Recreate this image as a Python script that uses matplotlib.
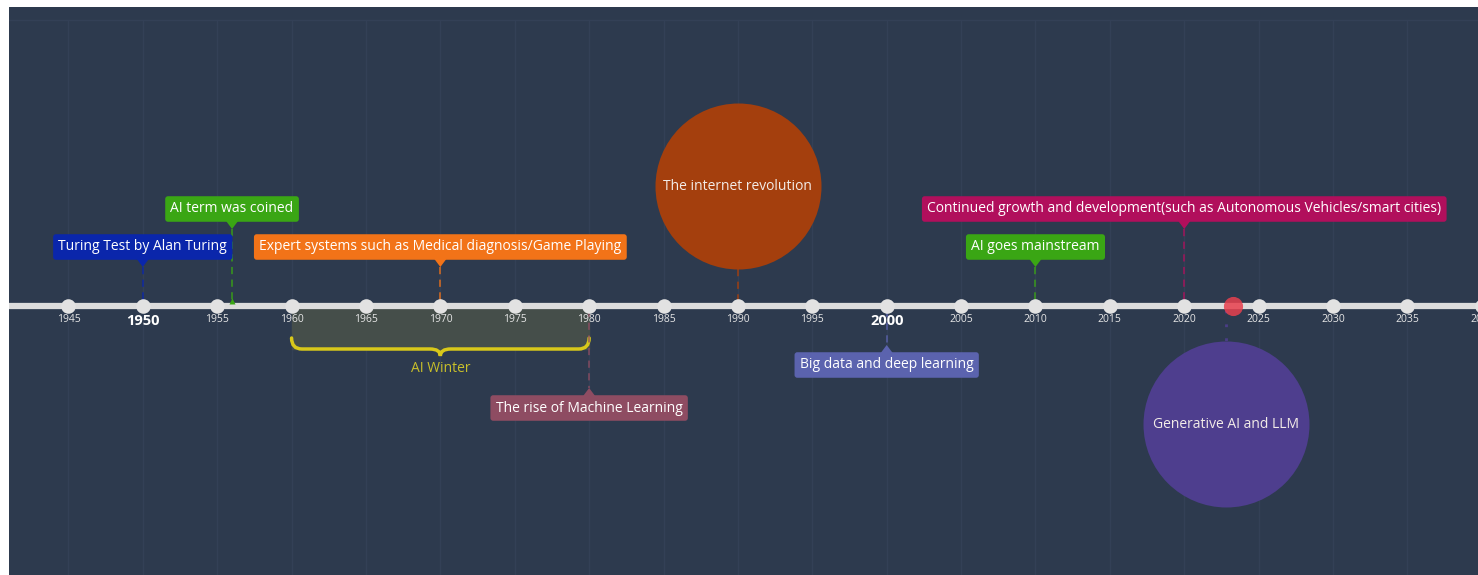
import matplotlib.pyplot as plt
from matplotlib.patches import Polygon, PathPatch
from matplotlib.path import Path

plt.rcParams['font.family'] = ['Open Sans', 'DejaVu Sans']

# data
event_years = [1950, 1956, 1970, 1980, 1990, 2000, 2010, 2020, 2022.8]
event_labels = ['Turing Test by Alan Turing', 'AI term was coined',
                'Expert systems such as Medical diagnosis/Game Playing',
                'The rise of Machine Learning', 'The internet revolution',
                'Big data and deep learning', 'AI goes mainstream',
                'Continued growth and development(such as Autonomous Vehicles/smart cities)',
                'Generative AI and LLM']
event_colors = ['#0a26ab', '#3aa614', '#f27318', '#8e4c62', '#a43f0d',
                '#5b63ae', '#3aa614', '#b10f5c', '#4e3e8e']
event_kinds = ['box', 'box', 'box', 'box', 'circle', 'box', 'box', 'box', 'circle']
winter_start, winter_end = 1960, 1980
today = 2023.3
tick_years = list(range(1945, 2045, 5))
bold_years = [1950, 2000]

# layout (pixel rows from top)
event_rows = [247, 209, 247, 408, 186, 365, 247, 209, 424]
axis_y = 306
px_per_year = 14.878

bg = '#2d3a4e'
fig = plt.figure(figsize=(14.78, 5.75), dpi=100, facecolor='white')
ax = fig.add_axes([9 / 1478, 0, 1469 / 1478, 568 / 575])
ax.set_facecolor(bg)
x_left = 1945 - (68.4 - 9) / px_per_year
x_right = 1945 + (1478 - 68.4) / px_per_year
ax.set_xlim(x_left, x_right)
ax.set_ylim(575, 7)
ax.axis('off')
ax.add_patch(plt.Rectangle((x_left, 7), x_right - x_left, 568, color=bg, zorder=0))

# grid
ax.axhline(20, color='#334056', lw=1, zorder=1)
for yr in tick_years:
    ax.plot([yr, yr], [20, 575], color='#334056', lw=1, zorder=1)

# AI winter
ax.fill_between([winter_start, winter_end], axis_y, 349, color='#454e4a', zorder=2)
mid = (winter_start + winter_end) / 2
d = 0.7
verts = [(winter_start, 338), (winter_start, 349), (winter_start + d, 349),
         (mid - d, 349), (mid, 349), (mid, 356),
         (mid, 349), (mid + d, 349),
         (winter_end - d, 349), (winter_end, 349), (winter_end, 338)]
codes = [Path.MOVETO, Path.CURVE3, Path.CURVE3, Path.LINETO, Path.CURVE3, Path.CURVE3,
         Path.CURVE3, Path.CURVE3, Path.LINETO, Path.CURVE3, Path.CURVE3]
ax.add_patch(PathPatch(Path(verts, codes), fill=False, edgecolor='#d8c81a', lw=2.5,
                       capstyle='round', zorder=3))
ax.text(mid, 369, 'AI Winter', color='#c9c02a', fontsize=10, ha='center', va='center', zorder=3)

# axis line
ax.plot([x_left, x_right], [axis_y, axis_y], color='#dcdcdc', lw=4.5, zorder=5,
        solid_capstyle='butt')
ax.scatter(tick_years, [axis_y] * len(tick_years), s=110, color='#e2e2e2', zorder=6,
           linewidths=0)
for yr in tick_years:
    if yr in bold_years:
        ax.text(yr, 321, str(yr), color='white', fontsize=10.5, fontweight='bold',
                ha='center', va='center', zorder=6)
    else:
        ax.text(yr, 319, str(yr), color='#e6e6e6', fontsize=7.5, ha='center', va='center',
                zorder=6, clip_on=True)

ax.scatter([today], [axis_y], s=190, color='#e8404e', alpha=0.85, zorder=7, linewidths=0)

# events
half_h = 12
tri_w = 6 / px_per_year
for yr, label, col, kind, row in zip(event_years, event_labels, event_colors,
                                     event_kinds, event_rows):
    above = row < axis_y
    if kind == 'box':
        ax.text(yr, row, label, color='white', fontsize=10, ha='center', va='center',
                zorder=8,
                bbox=dict(boxstyle='round,pad=0.38,rounding_size=0.2', fc=col, ec='none'))
        if above:
            base = row + half_h
            tip = base + 8
            line = [tip, axis_y - 4]
        else:
            base = row - half_h
            tip = base - 8
            line = [axis_y + 4, tip]
        ax.add_patch(Polygon([(yr - tri_w, base), (yr + tri_w, base), (yr, tip)],
                             closed=True, fc=col, ec='none', zorder=8))
        ax.plot([yr, yr], line, color=col, lw=1.3, alpha=0.75,
                linestyle=(0, (4, 3)), zorder=4)
    else:
        r = 83
        ax.scatter([yr], [row], s=(2 * r * 0.72) ** 2, color=col, zorder=8, linewidths=0)
        ax.text(yr, row, label, color='#f3ece8', fontsize=10, ha='center', va='center',
                zorder=9)
        if above:
            ax.plot([yr, yr], [row + r, axis_y - 4], color=col, lw=1.3, alpha=0.8,
                    linestyle=(0, (4, 3)), zorder=4)
        else:
            ax.plot([yr, yr], [axis_y + 4, row - r], color=col, lw=2, alpha=0.9,
                    linestyle=(0, (1, 4)), zorder=4)
    if above:
        ax.plot([yr], [axis_y - 5], marker='^', ms=5, color=col, zorder=5, mec='none')

fig.savefig('out.png', dpi=100, facecolor='white')
